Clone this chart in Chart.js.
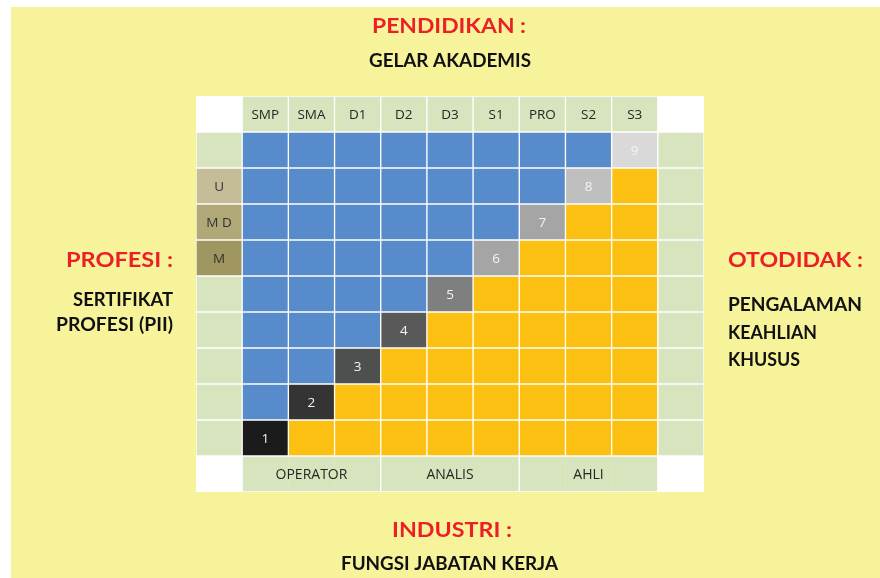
<!DOCTYPE html>
<html><head><meta charset="utf-8">
<script src="https://cdn.jsdelivr.net/npm/chart.js@4.4.1/dist/chart.umd.min.js"></script>
<style>html,body{margin:0;padding:0;background:#fff}#wrap{width:880px;height:578px}</style>
</head><body><div id="wrap"><canvas id="c" width="880" height="578"></canvas></div>
<script>
// ---------- DATA ----------
const columns = ['', 'SMP', 'SMA', 'D1', 'D2', 'D3', 'S1', 'PRO', 'S2', 'S3', ''];
// data rows, top to bottom
const rowLabels = ['', 'U', 'M D', 'M', '', '', '', '', ''];
// 0 = pendidikan (blue), -1 = otodidak (yellow), n = level number (grey)
const levelGrid = [
  [0, 0, 0, 0, 0, 0, 0, 0, 9],
  [0, 0, 0, 0, 0, 0, 0, 8, -1],
  [0, 0, 0, 0, 0, 0, 7, -1, -1],
  [0, 0, 0, 0, 0, 6, -1, -1, -1],
  [0, 0, 0, 0, 5, -1, -1, -1, -1],
  [0, 0, 0, 4, -1, -1, -1, -1, -1],
  [0, 0, 3, -1, -1, -1, -1, -1, -1],
  [0, 2, -1, -1, -1, -1, -1, -1, -1],
  [1, -1, -1, -1, -1, -1, -1, -1, -1]
];
const groupLabels = ['OPERATOR', 'ANALIS', 'AHLI'];
const groupSpans = [3, 3, 3];
const topTitle = 'PENDIDIKAN :', topSub = 'GELAR AKADEMIS';
const leftTitle = 'PROFESI :', leftSub = ['SERTIFIKAT', 'PROFESI (PII)'];
const rightTitle = 'OTODIDAK :', rightSub = ['PENGALAMAN', 'KEAHLIAN', 'KHUSUS'];
const bottomTitle = 'INDUSTRI :', bottomSub = 'FUNGSI JABATAN KERJA';

// ---------- STYLE ----------
const C_BLUE = '#588BCB', C_YELLOW = '#FCC012', C_GREEN = '#D7E4BD', C_WHITE = '#FFFFFF';
const C_BG = '#F7F39B', C_RED = '#EC1F27';
const labelColors = { 'U': '#C4BD97', 'M D': '#B1A877', 'M': '#A0965F' };
const levelColors = { 1: '#1B1B1B', 2: '#333433', 3: '#4E4F4F', 4: '#595959', 5: '#7F7F7F', 6: '#A5A5A5', 7: '#A5A5A5', 8: '#BFBFBF', 9: '#D9D9D9' };

const nRows = levelGrid.length + 2; // header + data + bottom
const nCols = columns.length;

// group start / end columns for bottom row
const groupStart = [], groupEnd = [];
{ let c = 1; groupSpans.forEach(s => { groupStart.push(c); groupEnd.push(c + s - 1); c += s; }); }

function cellInfo(r, c) {
  if (r === 0) {
    if (c === 0 || c === nCols - 1) return { bg: C_WHITE };
    return { bg: C_GREEN, text: columns[c], color: '#262626', size: 13.5 };
  }
  if (r === nRows - 1) {
    if (c === 0 || c === nCols - 1) return { bg: C_WHITE };
    return { bg: C_GREEN };
  }
  const dr = r - 1;
  if (c === 0) {
    const lab = rowLabels[dr];
    return { bg: labelColors[lab] || C_GREEN, text: lab, color: '#333333', size: 13.5 };
  }
  if (c === nCols - 1) return { bg: C_GREEN };
  const v = levelGrid[dr][c - 1];
  if (v === 0) return { bg: C_BLUE };
  if (v === -1) return { bg: C_YELLOW };
  return { bg: levelColors[v], text: String(v), color: '#F4F4F4', size: 13.5 };
}

const datasets = [];
for (let r = 0; r < nRows; r++) {
  const yTop = nRows - r, yBot = nRows - r - 1;
  const infos = columns.map((_, c) => cellInfo(r, c));
  const isBottom = r === nRows - 1;
  datasets.push({
    data: columns.map(() => [yBot, yTop]),
    backgroundColor: infos.map(i => i.bg),
    borderColor: C_WHITE,
    borderSkipped: false,
    borderWidth: isBottom ? (ctx => {
      const c = ctx.dataIndex;
      if (c === 0 || c === nCols - 1) return 1;
      return { top: 1, bottom: 1, left: groupStart.includes(c) ? 1 : 0, right: groupEnd.includes(c) ? 1 : 0 };
    }) : 1,
    grouped: false,
    categoryPercentage: 1,
    barPercentage: 1,
    _infos: infos
  });
}

const bgPlugin = {
  id: 'bg',
  beforeDraw(chart) {
    const ctx = chart.ctx;
    ctx.save();
    ctx.fillStyle = '#FFFFFF';
    ctx.fillRect(0, 0, chart.width, chart.height);
    ctx.fillStyle = C_BG;
    ctx.fillRect(11, 7, chart.width - 11, chart.height - 7);
    ctx.restore();
  }
};

function drawFit(ctx, text, anchorX, baseline, align, size, color, targetW) {
  ctx.save();
  ctx.font = 'bold ' + size + 'px Lato';
  const w = ctx.measureText(text).width;
  const sx = targetW / w;
  ctx.translate(anchorX, baseline);
  ctx.scale(sx, 1);
  ctx.textAlign = align;
  ctx.textBaseline = 'alphabetic';
  ctx.fillStyle = color;
  ctx.fillText(text, 0, 0);
  ctx.restore();
}

const textPlugin = {
  id: 'cellText',
  afterDatasetsDraw(chart) {
    const ctx = chart.ctx;
    ctx.save();
    ctx.textAlign = 'center';
    ctx.textBaseline = 'middle';
    chart.data.datasets.forEach((ds, r) => {
      const meta = chart.getDatasetMeta(r);
      meta.data.forEach((el, c) => {
        const info = ds._infos[c];
        if (!info.text) return;
        ctx.font = info.size + 'px "Open Sans"';
        ctx.fillStyle = info.color;
        ctx.fillText(info.text, el.x, (el.y + el.base) / 2 + 1);
      });
    });
    // merged group labels on bottom row
    const meta = chart.getDatasetMeta(nRows - 1);
    ctx.font = '14px "Open Sans"';
    ctx.fillStyle = '#262626';
    groupLabels.forEach((g, i) => {
      const a = meta.data[groupStart[i]], b = meta.data[groupEnd[i]];
      ctx.fillText(g, (a.x + b.x) / 2, (a.y + a.base) / 2 + 1);
    });
    ctx.restore();

    // surrounding titles
    drawFit(ctx, topTitle, 449, 33, 'center', 21, C_RED, 154);
    drawFit(ctx, topSub, 450, 67, 'center', 19.5, '#111111', 162);
    drawFit(ctx, leftTitle, 173, 267, 'right', 21, C_RED, 107);
    drawFit(ctx, leftSub[0], 173, 306, 'right', 19.5, '#111111', 100);
    drawFit(ctx, leftSub[1], 173, 331, 'right', 19.5, '#111111', 117);
    drawFit(ctx, rightTitle, 728, 267, 'left', 21, C_RED, 135);
    drawFit(ctx, rightSub[0], 728, 311, 'left', 19.5, '#111111', 134);
    drawFit(ctx, rightSub[1], 728, 339, 'left', 19.5, '#111111', 89);
    drawFit(ctx, rightSub[2], 728, 366, 'left', 19.5, '#111111', 72);
    drawFit(ctx, bottomTitle, 452, 537, 'center', 21, C_RED, 120);
    drawFit(ctx, bottomSub, 449.5, 570, 'center', 19.5, '#111111', 217);
  }
};

new Chart(document.getElementById('c'), {
  type: 'bar',
  data: { labels: columns.map((c, i) => i), datasets },
  options: {
    responsive: false,
    animation: false,
    layout: { padding: { left: 196, right: 176, top: 96, bottom: 86 } },
    plugins: { legend: { display: false }, tooltip: { enabled: false }, title: { display: false } },
    scales: {
      x: { display: false, stacked: true, offset: true },
      y: { display: false, stacked: false, min: 0, max: nRows }
    }
  },
  plugins: [bgPlugin, textPlugin]
});
</script>
</body></html>
